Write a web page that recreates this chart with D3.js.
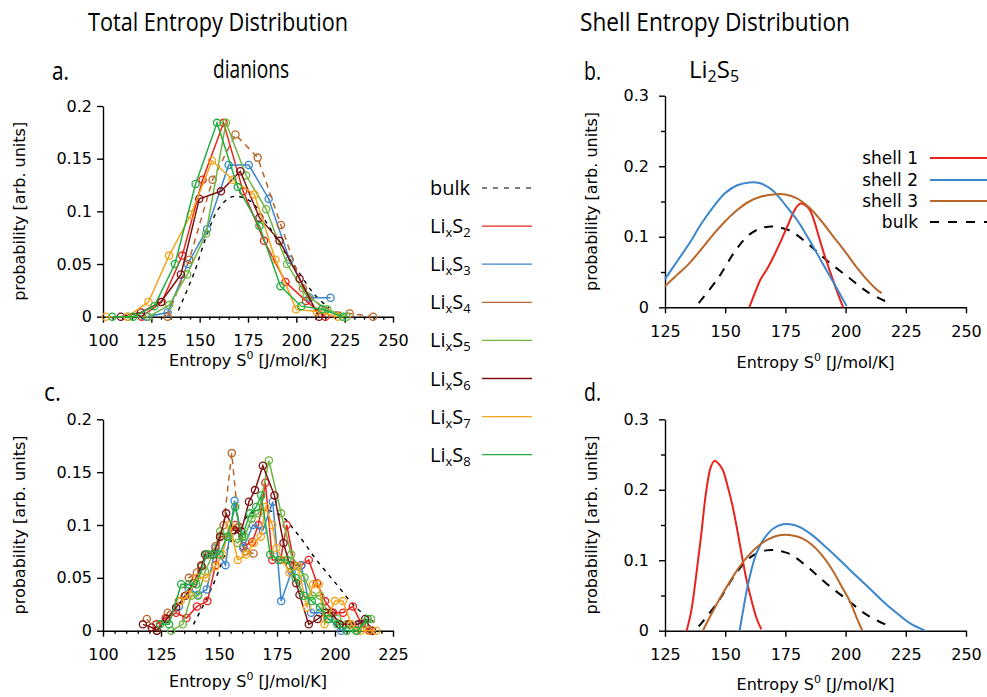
<!DOCTYPE html>
<html>
<head>
<meta charset="utf-8">
<script src="https://cdn.jsdelivr.net/npm/d3@7"></script>
<style>
  body { margin: 0; background: #fff; }
  svg text { font-family: "DejaVu Sans", sans-serif; fill: #000; }
  .title { font-family: "Open Sans", sans-serif; }
</style>
</head>
<body>
<svg id="chart" width="987" height="697"></svg>
<script>
// ---- data ----
const bulkCurve = [[139,0.006],[147,0.041],[154,0.079],[160,0.103],[167,0.114],[176,0.110],[184,0.091],[192,0.067],[201,0.043],[209,0.022],[217,0.008]];

// panel a: total entropy, dianions
const totalA_S2 = [[120,0],[130.4,0.014],[141,0.058],[151.5,0.13],[162.4,0.184],[172.5,0.119],[183.3,0.072],[194.4,0.033],[205,0.015],[215,0]];
const totalA_S3 = [[122.5,0],[133.4,0.004],[143.8,0.05],[153.8,0.083],[165,0.144],[175.4,0.144],[185.7,0.112],[196.5,0.054],[206.9,0.018],[217.7,0.018]];
const totalA_S4 = [[133.4,0],[144.6,0.054],[156.7,0.13],[168.5,0.173],[180,0.151],[192,0.087],[203.4,0.027],[214.6,0.006],[227.6,0.003],[239.7,0]];
const totalA_S5 = [[113,0],[123.5,0],[134.2,0.011],[143.5,0.04],[153.3,0.079],[163.6,0.184],[174,0.134],[184.4,0.102],[195.2,0.05],[205.3,0.02],[216,0.007],[226,0]];
const totalA_S6 = [[109.2,0],[119.6,0.004],[130,0.014],[140.3,0.04],[149.8,0.112],[161,0.119],[171,0.138],[180.9,0.094],[191.3,0.072],[201.7,0.036],[211.7,0]];
const totalA_S7 = [[101.4,0],[112.6,0],[123.5,0.014],[134.2,0.058],[145.5,0.097],[156.4,0.148],[167.1,0.13],[178.3,0.116],[189.2,0.054],[199.9,0.007],[210.6,0.005],[221.4,0]];
const totalA_S8 = [[104.8,0],[115.6,0],[126.5,0.01],[137.2,0.05],[147.9,0.126],[159,0.184],[169.7,0.123],[180.9,0.086],[191.8,0.029],[202.5,0.01],[213.3,0.007],[224.1,0]];

// panel c: total entropy, second set
const totalC_S2 = [[123,0.006],[127,0.012],[131.5,0.017],[136,0.012],[140.5,0.023],[145,0.028],[148.5,0.062],[150.5,0.089],[154,0.089],[157,0.1],[160.5,0.08],[164.3,0.084],[167,0.1],[170,0.14],[173,0.067],[176.5,0.067],[179.2,0.1],[182.5,0.062],[185.5,0.062],[188.7,0.067],[192.2,0.045],[195.7,0.028],[199.3,0.017],[203.5,0.017],[207.7,0.023],[211.5,0.006],[215,0]];
const totalC_S3 = [[132.7,0.023],[137,0.04],[141,0.034],[144.7,0.039],[148.5,0.078],[152.8,0.062],[156.7,0.123],[160.5,0.078],[164.6,0.1],[168.9,0.095],[173.2,0.122],[176.8,0.028],[181.3,0.056],[185.4,0.062],[189.7,0.017],[193.5,0.017],[197.5,0.011],[202.7,0],[206.5,0.006],[210.5,0.006]];
const totalC_S4 = [[118.9,0.011],[123.2,0],[127.9,0.017],[132.7,0.028],[137,0.05],[140.5,0.055],[142.3,0.062],[145.5,0.072],[148.5,0.08],[152,0.1],[155.5,0.168],[158.5,0.098],[161.5,0.075],[164.9,0.073]];
const totalC_S5 = [[129.4,0],[134.4,0.006],[138,0.033],[141,0.033],[144,0.056],[147.3,0.072],[150.5,0.094],[154.5,0.089],[158,0.083],[161,0.089],[164,0.106],[167,0.111],[171.5,0.161],[176.8,0.111],[181.1,0.072],[184,0.061],[186.9,0.05],[190.2,0.033],[193.6,0.033],[197,0.017],[201,0.011],[205,0.006],[209,0],[212.5,0.006],[215.5,0.011]];
const totalC_S6 = [[117.2,0.006],[121,0.003],[123.2,0],[127.5,0.011],[131.5,0.022],[135.5,0.033],[139,0.045],[142.5,0.061],[144,0.072],[147.5,0.072],[150.5,0.089],[153.1,0.111],[156.5,0.095],[159.6,0.094],[162.9,0.122],[165.5,0.133],[168.9,0.156],[173.9,0.128],[177.8,0.083],[180.5,0.062],[183.3,0.045],[184.7,0.034],[188.7,0.006],[192.5,0.011],[196,0.017],[198.6,0.017],[202,0.006],[206,0.006],[210,0.006],[213,0.011],[216,0]];
const totalC_S7 = [[133.5,0.028],[137,0.034],[140.5,0.05],[144.5,0.05],[148.5,0.061],[151.5,0.072],[154.5,0.1],[158.1,0.067],[161.7,0.072],[165,0.083],[168,0.089],[170,0.117],[173,0.1],[174.7,0.078],[177.5,0.067],[180.4,0.055],[184,0.061],[187.9,0.022],[190.5,0.044],[193,0.044],[195.5,0.006],[199.9,0.028],[203.4,0.028],[207,0.006],[211,0],[214.5,0],[217.8,0]];
const totalC_S8 = [[124.6,0.006],[128.5,0.006],[133.7,0.044],[137,0.044],[140.2,0.044],[144.7,0.072],[147.5,0.072],[150.2,0.072],[153.5,0.089],[157,0.117],[160,0.089],[163.4,0.111],[166,0.117],[168.2,0.128],[172.1,0.072],[175.7,0.067],[179.5,0.067],[183,0.05],[186.5,0.033],[190,0.028],[193.5,0.022],[197,0.011],[201,0.006],[205,0],[209.5,0],[214.1,0.011]];

// panel b: shell entropy, Li2S5
const shellB_1 = [[160,0],[162.5,0.022],[164.6,0.039],[167.5,0.055],[170.1,0.072],[173,0.093],[175.7,0.114],[179.2,0.14],[181.3,0.147],[184.7,0.14],[186.8,0.124],[188.9,0.1],[191.3,0.073],[193.8,0.048],[196.5,0.022],[199,0]];
const shellB_2 = [[125,0.04],[130,0.065],[135,0.09],[140,0.118],[145,0.142],[150,0.162],[155,0.173],[160,0.177],[163,0.177],[166,0.174],[170,0.165],[175,0.145],[180,0.123],[185,0.095],[190,0.065],[195,0.035],[200.4,0.002]];
const shellB_3 = [[125,0.03],[130,0.046],[135,0.062],[140,0.082],[145,0.103],[150,0.122],[155,0.138],[160,0.15],[165,0.157],[170,0.16],[175,0.16],[180,0.154],[185,0.141],[190,0.122],[195,0.1],[200,0.078],[205,0.055],[210,0.035],[213,0.025],[215,0.02]];

// panel d: shell entropy, second system
const shellD_1 = [[134,0],[136,0.03],[138,0.08],[140,0.135],[142,0.195],[144,0.232],[145.5,0.241],[147,0.238],[149,0.228],[151,0.205],[153,0.178],[155,0.143],[157,0.105],[159,0.07],[161,0.042],[163,0.018],[165,0.002]];
const shellD_2 = [[156,0],[157.5,0.03],[159,0.058],[161,0.088],[163,0.11],[166,0.13],[170,0.145],[174,0.151],[177,0.151],[181,0.147],[186,0.136],[192,0.118],[198,0.099],[204,0.079],[210,0.06],[216,0.04],[222,0.023],[227,0.01],[233,0]];
const shellD_3 = [[140.7,0],[144,0.022],[148,0.047],[152,0.07],[156,0.091],[160,0.108],[164,0.121],[168,0.13],[172,0.135],[175,0.136],[178,0.135],[182,0.131],[186,0.122],[190,0.108],[194,0.089],[198,0.065],[202,0.04],[205,0.015],[207,0]];

const lixsIndex = ["2","3","4","5","6","7","8"];
const shellNames = ["shell 1", "shell 2", "shell 3"];
const xTicksTotalA = [100,125,150,175,200,225,250];
const xTicksTotalC = [100,125,150,175,200,225];
const xTicksShell = [125,150,175,200,225,250];
const yTicksTotal = [0,0.05,0.1,0.15,0.2];
const yTicksShell = [0,0.1,0.2,0.3];
const yMinorShell = [0.05,0.15,0.25];

// ---- styles ----
const lixsColors = ["#e8231c","#3b86cc","#b8662a","#6fb640","#7d1313","#f4a41d","#23ae43"];
const shellColors = ["#e8231c","#3b86cc","#b8662a"];

const svg = d3.select("#chart");

function drawAxes(p) {
    const x = d3.scaleLinear().domain(p.xdom).range([p.left, p.right]);
    const y = d3.scaleLinear().domain(p.ydom).range([p.bottom, p.top]);
    const g = svg.append("g");

    if (p.xminor) {
        g.append("g")
            .attr("transform", `translate(0,${p.bottom})`)
            .call(d3.axisBottom(x).tickValues(p.xminor).tickSize(3).tickFormat(""))
            .call(s => s.select(".domain").remove());
    }
    if (p.yminor) {
        g.append("g")
            .attr("transform", `translate(${p.left},0)`)
            .call(d3.axisLeft(y).tickValues(p.yminor).tickSize(4).tickFormat(""))
            .call(s => s.select(".domain").remove());
    }
    g.append("g")
        .attr("transform", `translate(0,${p.bottom})`)
        .call(d3.axisBottom(x).tickValues(p.xticks).tickSize(6).tickSizeOuter(0).tickPadding(12).tickFormat(d3.format("d")));
    g.append("g")
        .attr("transform", `translate(${p.left},0)`)
        .call(d3.axisLeft(y).tickValues(p.yticks).tickSize(6).tickSizeOuter(0).tickPadding(p.ypad).tickFormat(d => String(d)));

    g.selectAll(".domain, .tick line").attr("stroke", "#000").attr("stroke-width", 1.4);
    g.selectAll(".tick text").style("font-size", "16px").style("font-family", "DejaVu Sans");

    // axis titles
    g.append("text")
        .attr("transform", `translate(${p.ylabX},${(p.top + p.bottom) / 2}) rotate(-90)`)
        .attr("text-anchor", "middle")
        .attr("dy", "0.35em")
        .style("font-size", "16px")
        .text("probability [arb. units]");
    const xt = g.append("text")
        .attr("x", (p.left + p.right) / 2)
        .attr("y", p.xlabY)
        .attr("text-anchor", "middle")
        .style("font-size", "16px");
    xt.append("tspan").text("Entropy S");
    xt.append("tspan").attr("dy", -7).style("font-size", "11px").text("0");
    xt.append("tspan").attr("dy", 7).text(" [J/mol/K]");

    return { x, y, g };
}

function drawTotal(p, seriesList, bulk) {
    const { x, y, g } = drawAxes(p);
    const line = d3.line().x(d => x(d[0])).y(d => y(d[1]));

    g.append("path")
        .attr("d", line.curve(d3.curveCatmullRom)(bulk))
        .attr("fill", "none")
        .attr("stroke", "#000")
        .attr("stroke-width", 1.4)
        .attr("stroke-dasharray", "4,5");
    line.curve(d3.curveLinear);

    seriesList.forEach((s, i) => {
        const col = lixsColors[i];
        g.append("path")
            .attr("d", line(s))
            .attr("fill", "none")
            .attr("stroke", col)
            .attr("stroke-width", 1.5)
            .attr("stroke-dasharray", i === 2 ? "6,5" : null);
        g.append("g").selectAll("circle")
            .data(s)
            .join("circle")
            .attr("cx", d => x(d[0]))
            .attr("cy", d => y(d[1]))
            .attr("r", 3.6)
            .attr("fill", "none")
            .attr("stroke", col)
            .attr("stroke-width", 1.3);
    });
}

function drawShell(p, curves, bulk) {
    const { x, y, g } = drawAxes(p);
    const line = d3.line().x(d => x(d[0])).y(d => y(d[1])).curve(d3.curveCatmullRom);

    g.append("path")
        .attr("d", line(bulk))
        .attr("fill", "none")
        .attr("stroke", "#000")
        .attr("stroke-width", 2)
        .attr("stroke-dasharray", "9,8");
    curves.forEach((c, i) => {
        g.append("path")
            .attr("d", line(c))
            .attr("fill", "none")
            .attr("stroke", shellColors[i])
            .attr("stroke-width", 2);
    });
}

const minorTotalA = d3.range(105, 250, 5).filter(v => v % 25 !== 0);
const minorTotalC = d3.range(105, 225, 5).filter(v => v % 25 !== 0);

drawTotal({ xdom: [100, 250], ydom: [0, 0.2], left: 103, right: 393, top: 106, bottom: 316.7,
            xticks: xTicksTotalA, xminor: minorTotalA, yticks: yTicksTotal, ypad: 5, ylabX: 19, xlabY: 366 },
          [totalA_S2, totalA_S3, totalA_S4, totalA_S5, totalA_S6, totalA_S7, totalA_S8], bulkCurve);

drawTotal({ xdom: [100, 225], ydom: [0, 0.2], left: 103, right: 393, top: 419.3, bottom: 630.7,
            xticks: xTicksTotalC, xminor: minorTotalC, yticks: yTicksTotal, ypad: 5, ylabX: 19, xlabY: 687 },
          [totalC_S2, totalC_S3, totalC_S4, totalC_S5, totalC_S6, totalC_S7, totalC_S8], bulkCurve);

drawShell({ xdom: [125, 250], ydom: [0, 0.3], left: 665, right: 966, top: 95.7, bottom: 307.3,
            xticks: xTicksShell, yticks: yTicksShell, yminor: yMinorShell, ypad: 10, ylabX: 591, xlabY: 368 },
          [shellB_1, shellB_2, shellB_3], bulkCurve);

drawShell({ xdom: [125, 250], ydom: [0, 0.3], left: 665, right: 966, top: 419.3, bottom: 630.7,
            xticks: xTicksShell, yticks: yTicksShell, yminor: yMinorShell, ypad: 10, ylabX: 591, xlabY: 690 },
          [shellD_1, shellD_2, shellD_3], bulkCurve);

// ---- headings ----
function heading(txt, x, y, size, anchor, len) {
    const t = svg.append("text")
        .attr("class", "title")
        .attr("x", x).attr("y", y)
        .attr("text-anchor", anchor)
        .style("font-size", size + "px")
        .text(txt);
    if (len) t.attr("textLength", len).attr("lengthAdjust", "spacingAndGlyphs");
    return t;
}
heading("Total Entropy Distribution", 88, 31, 25, "start", 260);
heading("Shell Entropy Distribution", 580, 31, 25, "start", 270);
heading("a.", 52, 80, 25, "start", 17);
heading("dianions", 213, 78, 25, "start", 76);
heading("b.", 584, 80, 25, "start", 17);
heading("c.", 44, 401, 25, "start", 17);
heading("d.", 584, 401, 25, "start", 17);
const li = svg.append("text").attr("class", "title").attr("x", 689).attr("y", 78).style("font-size", "24px");
li.append("tspan").text("Li");
li.append("tspan").attr("dy", 4).style("font-size", "16px").text("2");
li.append("tspan").attr("dy", -4).text("S");
li.append("tspan").attr("dy", 4).style("font-size", "16px").text("5");

// ---- middle legend ----
const legY0 = 188, legStep = 38.1;
const lg = svg.append("g");
lg.append("text").attr("class", "title").attr("x", 430).attr("y", legY0 + 7).style("font-size", "20px").text("bulk");
lg.append("line").attr("x1", 482).attr("x2", 532).attr("y1", legY0).attr("y2", legY0)
    .attr("stroke", "#000").attr("stroke-width", 1.2).attr("stroke-dasharray", "5,6");
lixsIndex.forEach((n, i) => {
    const yy = legY0 + legStep * (i + 1);
    const t = lg.append("text").attr("class", "title").attr("x", 430).attr("y", yy + 7).style("font-size", "20px");
    t.append("tspan").text("Li");
    t.append("tspan").attr("dy", 4).style("font-size", "13px").text("x");
    t.append("tspan").attr("dy", -4).text("S");
    t.append("tspan").attr("dy", 4).style("font-size", "13px").text(n);
    lg.append("line").attr("x1", 482).attr("x2", 532).attr("y1", yy).attr("y2", yy)
        .attr("stroke", lixsColors[i]).attr("stroke-width", 1.3);
});

// ---- shell legend (panel b) ----
const sl = svg.append("g");
const shellLegY = [158, 180, 201];
shellNames.forEach((n, i) => {
    sl.append("text").attr("x", 918).attr("y", shellLegY[i] + 6).attr("text-anchor", "end").style("font-size", "17px").text(n);
    sl.append("line").attr("x1", 930).attr("x2", 987).attr("y1", shellLegY[i]).attr("y2", shellLegY[i])
        .attr("stroke", shellColors[i]).attr("stroke-width", 2);
});
sl.append("text").attr("x", 918).attr("y", 228).attr("text-anchor", "end").style("font-size", "17px").text("bulk");
sl.append("line").attr("x1", 930).attr("x2", 987).attr("y1", 222).attr("y2", 222)
    .attr("stroke", "#000").attr("stroke-width", 2).attr("stroke-dasharray", "9,9");
</script>
</body>
</html>
